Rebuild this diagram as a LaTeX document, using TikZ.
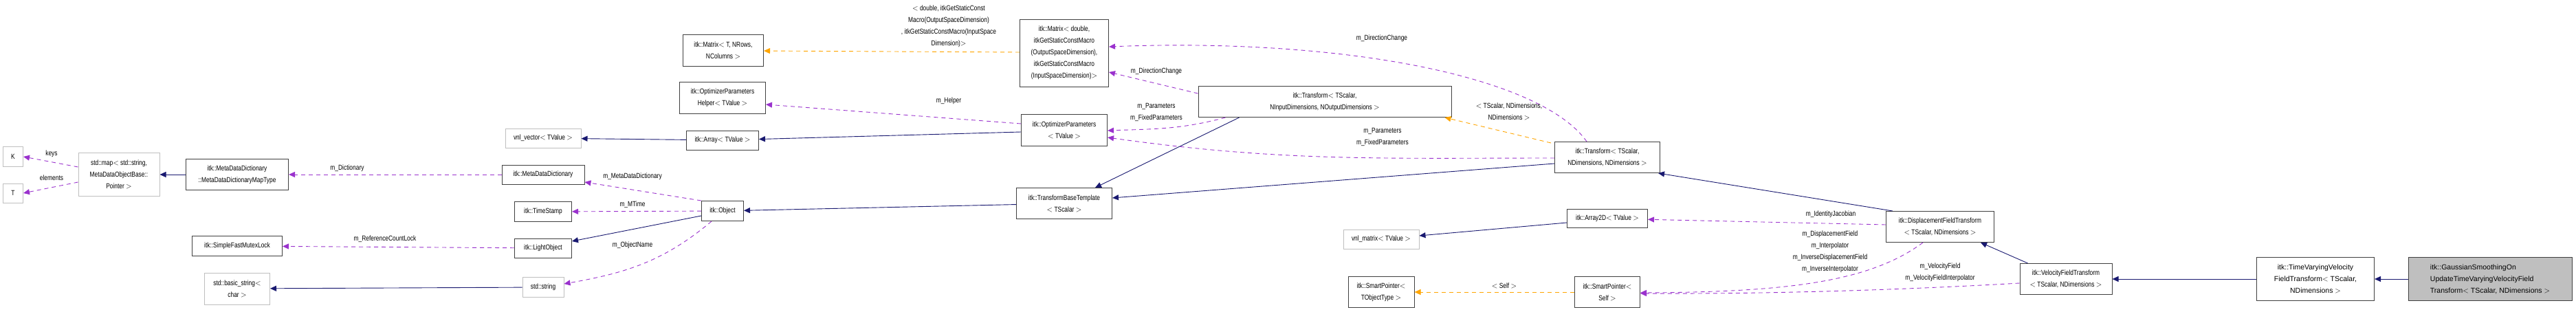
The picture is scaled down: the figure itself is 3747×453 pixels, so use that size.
\documentclass[tikz,border=0pt]{standalone}
\usepackage{fontspec}
\setmainfont{Liberation Sans}[FakeStretch=0.80]
\newfontfamily\widefont{Liberation Sans}
\usetikzlibrary{arrows.meta,calc}
\definecolor{inh}{HTML}{191970}
\definecolor{use}{HTML}{9A32CD}
\definecolor{tpl}{HTML}{FFA500}
\tikzset{
 x=1pt,y=-1pt,
 box/.style={draw=black!75,line width=1pt,fill=white,align=center,inner sep=1pt,font=\fontsize{10.5}{17}\selectfont},
 gbox/.style={box,draw=black!25},
 inhe/.style={draw=inh,line width=0.9pt,-{Triangle[length=9pt,width=8pt]}},
 usee/.style={draw=use,line width=0.9pt,dashed,dash pattern=on 6pt off 5pt,-{Triangle[length=9pt,width=8pt]}},
 tple/.style={draw=tpl,line width=0.9pt,dashed,dash pattern=on 6pt off 5pt,-{Triangle[length=9pt,width=8pt]}},
 lab/.style={align=center,inner sep=0pt,font=\fontsize{10.5}{17}\selectfont},
}
\begin{document}
\begin{tikzpicture}
\useasboundingbox (0,0) rectangle (3747,453);
\node[gbox,minimum width=29,minimum height=29] (K) at (19,228) {K};
\node[gbox,minimum width=29,minimum height=28] (T) at (19,281) {T};
\node[gbox,minimum width=118,minimum height=63] (map) at (173,254) {std::map$<$ std::string,\\ MetaDataObjectBase::\\Pointer $>$};
\node[box,minimum width=149,minimum height=45] (mapt) at (345,254) {itk::MetaDataDictionary\\::MetaDataDictionaryMapType};
\node[box,minimum width=131,minimum height=29] (mutex) at (345,358) {itk::SimpleFastMutexLock};
\node[gbox,minimum width=95,minimum height=46] (bstr) at (345,420) {std::basic\_string$<$\\ char $>$};
\node[box,minimum width=117,minimum height=46] (matT) at (1052,73) {itk::Matrix$<$ T, NRows,\\ NColumns $>$};
\node[box,minimum width=125,minimum height=46] (help) at (1051,142) {itk::OptimizerParameters\\Helper$<$ TValue $>$};
\node[gbox,minimum width=110,minimum height=28] (vvec) at (790,201) {vnl\_vector$<$ TValue $>$};
\node[box,minimum width=105,minimum height=28] (arr) at (1051,204) {itk::Array$<$ TValue $>$};
\node[box,minimum width=120,minimum height=28] (mdd) at (790,254) {itk::MetaDataDictionary};
\node[box,minimum width=83,minimum height=29] (ts) at (790,308) {itk::TimeStamp};
\node[box,minimum width=83,minimum height=28] (lo) at (790,361) {itk::LightObject};
\node[gbox,minimum width=60,minimum height=29] (str) at (790,418) {std::string};
\node[box,minimum width=61,minimum height=29] (obj) at (1051,307) {itk::Object};
\node[box,minimum width=129,minimum height=98] (matD) at (1548,77) {itk::Matrix$<$ double,\\ itkGetStaticConstMacro\\(OutputSpaceDimension),\\ itkGetStaticConstMacro\\(InputSpaceDimension)$>$};
\node[box,minimum width=125,minimum height=46] (opt) at (1548,189) {itk::OptimizerParameters\\$<$ TValue $>$};
\node[box,minimum width=139,minimum height=45] (tbt) at (1548,296) {itk::TransformBaseTemplate\\$<$ TScalar $>$};
\node[box,minimum width=368,minimum height=45] (trIn) at (1927,148) {itk::Transform$<$ TScalar,\\ NInputDimensions, NOutputDimensions $>$};
\node[box,minimum width=153,minimum height=45] (trD) at (2338,229) {itk::Transform$<$ TScalar,\\ NDimensions, NDimensions $>$};
\node[box,minimum width=117,minimum height=27] (a2d) at (2338,318) {itk::Array2D$<$ TValue $>$};
\node[gbox,minimum width=110,minimum height=28] (vmat) at (2009,348) {vnl\_matrix$<$ TValue $>$};
\node[box,minimum width=96,minimum height=45] (spT) at (2009,425) {itk::SmartPointer$<$\\ TObjectType $>$};
\node[box,minimum width=95,minimum height=45] (spS) at (2338,425) {itk::SmartPointer$<$\\ Self $>$};
\node[box,minimum width=157,minimum height=45] (dft) at (2822,330) {itk::DisplacementFieldTransform\\$<$ TScalar, NDimensions $>$};
\node[box,minimum width=134,minimum height=45] (vft) at (3005,406) {itk::VelocityFieldTransform\\$<$ TScalar, NDimensions $>$};
\node[box,minimum width=171,minimum height=63,font=\widefont\fontsize{10.5}{17}\selectfont] (tv) at (3368,406) {itk::TimeVaryingVelocity\\FieldTransform$<$ TScalar,\\ NDimensions $>$};
\node[box,fill=black!25,minimum width=238,minimum height=63,font=\widefont\fontsize{10.5}{17}\selectfont,align=left] (gs) at (3622,406) {itk::GaussianSmoothingOn\\UpdateTimeVaryingVelocityField\\Transform$<$ TScalar, NDimensions $>$};
\draw[usee] (map.west|-0,243) -- (K.east);
\draw[usee] (map.west|-0,265) -- (T.east);
\draw[inhe] (mapt) -- (map);
\draw[usee] (mdd) -- (mapt);
\draw[usee] (lo) -- (mutex);
\draw[inhe] (str) -- (bstr);
\draw[inhe] (arr) -- (vvec);
\draw[usee] (obj.north west) -- (mdd.east|-0,265);
\draw[usee] (obj) -- (ts);
\draw[inhe] (obj.west|-0,314) -- (lo.east|-0,351);
\draw[usee] ($(obj.south west)+(15,0)$) to[out=-140,in=10] (str.east|-0,413);
\draw[tple] (matD.west|-0,76) -- (matT.east|-0,74);
\draw[usee] (opt.west|-0,180) -- (help.east|-0,152);
\draw[inhe] (opt.west|-0,192) -- (arr);
\draw[inhe] (tbt) -- (obj);
\draw[usee] (trIn.west|-0,136) -- (matD.east|-0,105);
\draw[usee] ($(trIn.south west)+(40,0)$) to[out=-165,in=2] (opt.east|-0,190);
\draw[inhe] ($(trIn.south west)+(60,0)$) -- ($(tbt.north east)+(-25,0)$);
\draw[usee] ($(trD.north)+(-30,0)$) .. controls (2240,110) and (1950,55) .. (matD.east|-0,68);
\draw[tple] ($(trD.north west)+(-5,2)$) -- ($(trIn.south east)+(-10,0)$);
\draw[usee] (trD.west|-0,230) to[out=180,in=-8] (opt.east|-0,200);
\draw[inhe] (trD.west|-0,238) -- (tbt.east|-0,288);
\draw[inhe] (a2d.west|-0,324) -- (vmat.east|-0,343);
\draw[tple] (spS) -- (spT);
\draw[inhe] ($(dft.north west)+(10,0)$) -- ($(trD.south east)+(-3,0)$);
\draw[usee] (dft.west|-0,327) -- (a2d);
\draw[usee] ($(dft.south)+(-25,0)$) .. controls (2720,410) and (2600,425) .. (spS.east|-0,426);
\draw[inhe] ($(vft.north west)+(12,0)$) -- ($(dft.south east)+(-20,0)$);
\draw[usee] (vft.west|-0,412) .. controls (2800,420) and (2600,428) .. (spS.east|-0,427);
\draw[inhe] (tv) -- (vft);
\draw[inhe] (gs) -- (tv);
\node[lab] (lkeys) at (75,224) {keys};
\node[lab] (lelem) at (75,259) {elements};
\node[lab] (ldict) at (505,245) {m\_Dictionary};
\node[lab] (lrcl) at (560,348) {m\_ReferenceCountLock};
\node[lab] (lmdd) at (920,257) {m\_MetaDataDictionary};
\node[lab] (lmt) at (920,298) {m\_MTime};
\node[lab] (lon) at (920,357) {m\_ObjectName};
\node[lab] (lmat) at (1380,38) {$<$ double, itkGetStaticConst\\Macro(OutputSpaceDimension)\\, itkGetStaticConstMacro(InputSpace\\Dimension)$>$};
\node[lab] (lhelp) at (1380,147) {m\_Helper};
\node[lab] (ldc1) at (1682,104) {m\_DirectionChange};
\node[lab] (lpar1) at (1682,163) {m\_Parameters\\m\_FixedParameters};
\node[lab] (ldc2) at (2010,56) {m\_DirectionChange};
\node[lab] (ltsc) at (2195,162) {$<$ TScalar, NDimensions,\\NDimensions $>$};
\node[lab] (lpar2) at (2011,199) {m\_Parameters\\m\_FixedParameters};
\node[lab] (lself) at (2188,416) {$<$ Self $>$};
\node[lab] (lij) at (2663,312) {m\_IdentityJacobian};
\node[lab] (ldf) at (2662,366) {m\_DisplacementField\\m\_Interpolator\\m\_InverseDisplacementField\\m\_InverseInterpolator};
\node[lab] (lvf) at (2822,396) {m\_VelocityField\\m\_VelocityFieldInterpolator};
\end{tikzpicture}
\end{document}
